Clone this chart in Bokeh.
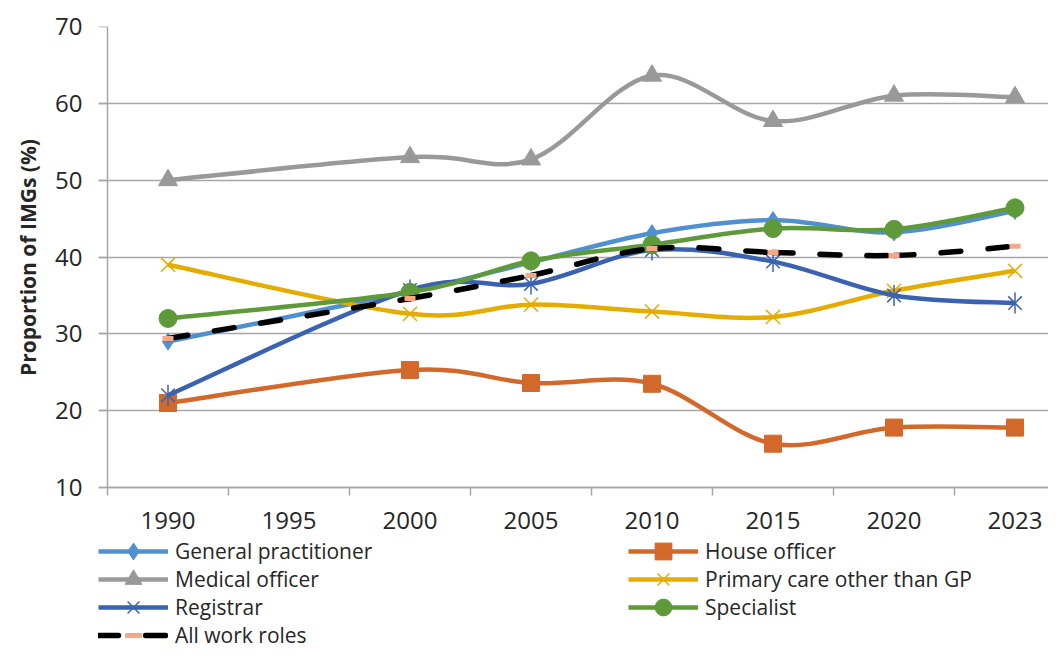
import numpy as np
from bokeh.plotting import figure
from bokeh.models import Range1d, FixedTicker, Legend, LegendItem, LinearAxis, Title
from bokeh.embed import file_html
from bokeh.resources import INLINE

# ---------------- data ----------------
categories = ["1990", "1995", "2000", "2005", "2010", "2015", "2020", "2023"]
years = ["1990", "2000", "2005", "2010", "2015", "2020", "2023"]
general_practitioner = [29.0, 35.5, 39.3, 43.1, 44.8, 43.2, 46.0]
house_officer = [21.0, 25.3, 23.6, 23.5, 15.7, 17.8, 17.8]
medical_officer = [50.0, 53.0, 52.7, 63.6, 57.7, 61.0, 60.8]
primary_care = [39.0, 32.6, 33.8, 32.9, 32.2, 35.6, 38.2]
registrar = [22.0, 35.7, 36.5, 40.9, 39.4, 35.0, 34.0]
specialist = [32.0, 35.4, 39.5, 41.6, 43.7, 43.6, 46.4]
all_roles = [29.4, 34.6, 37.6, 41.1, 40.6, 40.2, 41.4]
y_ticks = [10, 20, 30, 40, 50, 60, 70]
y_label = "Proportion of IMGs (%)"

FONT = "Open Sans"
TEXT = "#262626"
GRID = "#A6A6A6"

# ---------------- layout (pixels) ----------------
W, H = 1048, 648
FRAME_LEFT = 98          # frame starts where the y ticks start
AXIS_X = 107             # pixel of the y axis line
TOP = 26                 # pixel of y = 70
BOTTOM = 487             # pixel of y = 10
CAT_W = 121              # pixel width of one category
px_per_y = (BOTTOM - TOP) / (y_ticks[-1] - y_ticks[0])
x_start = -0.5 - (AXIS_X - FRAME_LEFT) / CAT_W
x_end = -0.5 + (W - AXIS_X) / CAT_W
y_start = y_ticks[0] - (H - BOTTOM) / px_per_y

xs = [categories.index(y) for y in years]


def bezier_args(x, y, t=1 / 6):
    x = np.asarray(x, float)
    y = np.asarray(y, float)
    n = len(x)
    px = np.concatenate([[x[0]], x, [x[-1]]])
    py = np.concatenate([[y[0]], y, [y[-1]]])
    return dict(
        x0=x[:-1], y0=y[:-1], x1=x[1:], y1=y[1:],
        cx0=x[:-1] + (px[2:n + 1] - px[0:n - 1]) * t,
        cy0=y[:-1] + (py[2:n + 1] - py[0:n - 1]) * t,
        cx1=x[1:] - (px[3:n + 2] - px[1:n]) * t,
        cy1=y[1:] - (py[3:n + 2] - py[1:n]) * t,
    )


p = figure(width=W, height=H, output_backend="svg", toolbar_location=None,
           x_range=Range1d(x_start, x_end), y_range=Range1d(y_start, y_ticks[-1]))
p.min_border_left = FRAME_LEFT
p.min_border_right = 0
p.min_border_top = TOP
p.min_border_bottom = 0
p.outline_line_color = None
p.background_fill_color = "white"
p.border_fill_color = "white"

# grid
p.xgrid.visible = False
p.ygrid.ticker = FixedTicker(ticks=y_ticks)
p.ygrid.grid_line_color = GRID
p.ygrid.grid_line_width = 1.3

# y axis (tick labels only, in the left panel)
ya = p.yaxis[0]
ya.bounds = (y_ticks[0], y_ticks[-1])
ya.ticker = FixedTicker(ticks=y_ticks)
ya.axis_line_color = None
ya.major_tick_line_color = None
ya.minor_tick_line_color = None
ya.major_tick_out = 0
ya.major_tick_in = 0
ya.major_label_text_font = FONT
ya.major_label_text_font_size = "24px"
ya.major_label_text_color = TEXT
ya.major_label_standoff = 16

# y axis line + ticks, at the first category boundary
ya2 = LinearAxis(fixed_location=-0.5, bounds=(y_ticks[0], y_ticks[-1]),
                 ticker=FixedTicker(ticks=y_ticks),
                 axis_line_color=GRID, axis_line_width=1.5,
                 major_tick_line_color=GRID, major_tick_line_width=1.5,
                 major_tick_out=9, major_tick_in=0, minor_tick_line_color=None,
                 major_label_text_color=None)
p.add_layout(ya2, "left")

# y axis title, centred on the 10-70 span
label_len = 238
ytitle = Title(text=y_label, align="left",
               offset=H - (TOP + BOTTOM) / 2 - label_len / 2,
               text_font=FONT, text_font_size="21px", text_font_style="bold",
               text_color=TEXT, standoff=22)
p.add_layout(ytitle, "left")

# x axis
xa = p.xaxis[0]
xa.fixed_location = y_ticks[0]
xa.bounds = (-0.5, x_end)
xa.ticker = FixedTicker(ticks=list(range(len(categories))),
                        minor_ticks=[i - 0.5 for i in range(len(categories) + 1)])
xa.major_label_overrides = {i: c for i, c in enumerate(categories)}
xa.axis_line_color = GRID
xa.axis_line_width = 1.5
xa.major_tick_line_color = None
xa.major_tick_out = 0
xa.major_tick_in = 0
xa.minor_tick_line_color = GRID
xa.minor_tick_line_width = 1.5
xa.minor_tick_out = 8
xa.minor_tick_in = 0
xa.major_label_text_font = FONT
xa.major_label_text_font_size = "24px"
xa.major_label_text_color = TEXT
xa.major_label_standoff = 16

series = [
    ("General practitioner", general_practitioner, "#5090CF", None),
    ("House officer", house_officer, "#D2692A", None),
    ("Medical officer", medical_officer, "#999999", None),
    ("Primary care other than GP", primary_care, "#E5AC00", None),
    ("Registrar", registrar, "#3A62B0", None),
    ("Specialist", specialist, "#5E9A3A", None),
    ("All work roles", all_roles, "black", "20 27"),
]

items = {}
for name, vals, color, dash in series:
    lw = 5.5 if dash else 4.5
    kw = dict(line_color=color, line_width=lw)
    if dash:
        kw.update(line_dash=dash, line_cap="round")
    p.bezier(**bezier_args(xs, vals), **kw)
    # one-point line: draws nothing in the plot, gives the legend its line
    leg_line = p.line(x=xs[:1], y=vals[:1], **kw)
    rs = [leg_line]
    if name == "General practitioner":
        rs.append(p.scatter(xs, vals, marker="diamond", size=17,
                            fill_color=color, line_color=color))
    elif name == "House officer":
        rs.append(p.scatter(xs, vals, marker="square", size=17,
                            fill_color=color, line_color=color))
    elif name == "Medical officer":
        rs.append(p.scatter(xs, vals, marker="triangle", size=19,
                            fill_color=color, line_color=color))
    elif name == "Primary care other than GP":
        rs.append(p.scatter(xs, vals, marker="x", size=20,
                            fill_color=None, line_color=color, line_width=1.5))
    elif name == "Registrar":
        rs.append(p.scatter(xs, vals, marker="x", size=19,
                            fill_color=None, line_color=color, line_width=1.5))
        rs.append(p.scatter(xs, vals, marker="dash", angle=np.pi / 2, size=21,
                            line_color=color, line_width=1.5))
    elif name == "Specialist":
        rs.append(p.scatter(xs, vals, marker="circle", size=18,
                            fill_color=color, line_color=color))
    else:
        rs.append(p.scatter(xs, vals, marker="dash", size=11,
                            line_color="#F4A886", line_width=5))
    items[name] = rs

# legend: one Legend per row, two columns
legend_rows = [["General practitioner", "House officer"],
               ["Medical officer", "Primary care other than GP"],
               ["Registrar", "Specialist"],
               ["All work roles"]]
ROW0, ROW_PITCH, GLYPH_H = 551, 28, 42
for r, names in enumerate(legend_rows):
    centre = ROW0 + r * ROW_PITCH
    leg = Legend(
        items=[LegendItem(label=n, renderers=items[n]) for n in names],
        location=(0, H - (centre + GLYPH_H / 2)), orientation="horizontal",
        glyph_width=70, glyph_height=GLYPH_H, label_height=20, label_width=453,
        label_standoff=7, spacing=0, padding=0, margin=0,
        label_text_font=FONT, label_text_font_size="21px", label_text_color=TEXT,
        border_line_color=None, background_fill_alpha=0,
    )
    p.add_layout(leg, "center")

open("out.html", "w").write(file_html(p, INLINE))
